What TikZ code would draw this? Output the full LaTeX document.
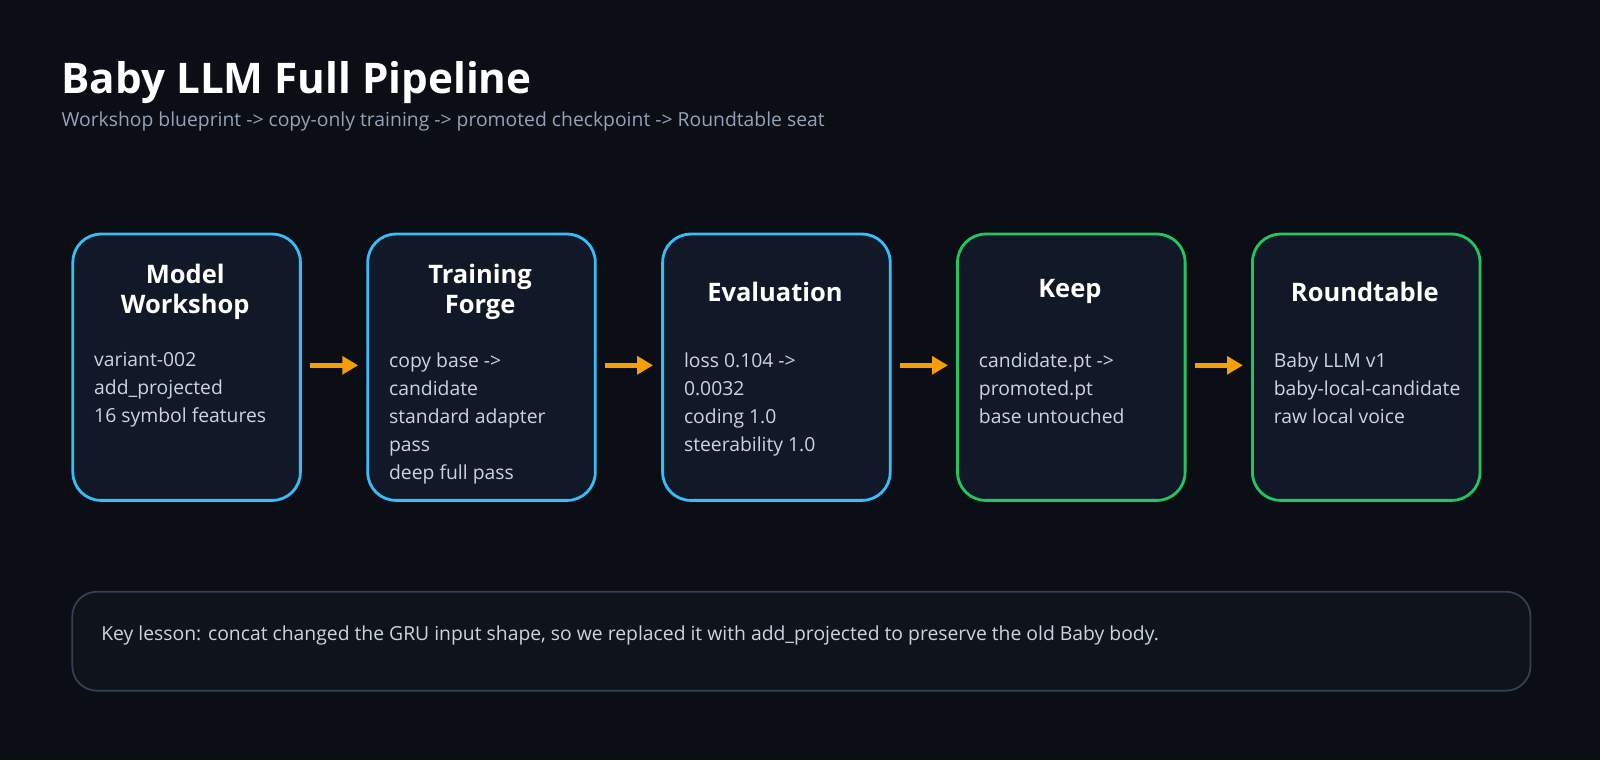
\documentclass[tikz,border=0pt]{standalone}
\usepackage{fontspec}
\setmainfont{Open Sans}
\usepackage{tikz}
\usetikzlibrary{arrows.meta}
\definecolor{bgdark}{HTML}{0B0E14}
\definecolor{boxfill}{HTML}{111827}
\definecolor{lowfill}{HTML}{0F141B}
\definecolor{lowline}{HTML}{334155}
\definecolor{skyline}{HTML}{38BDF8}
\definecolor{greenline}{HTML}{22C55E}
\definecolor{flowarrow}{HTML}{F59E0B}
\definecolor{bodytext}{HTML}{CBD5E1}
\definecolor{subtext}{HTML}{94A3B8}
\tikzstyle{stage}=[rectangle,rounded corners=16pt,fill=boxfill,line width=1.6pt,minimum width=223*0.0204cm,minimum height=261*0.0204cm,anchor=north west,inner sep=0pt]
\tikzstyle{blue}=[stage,draw=skyline]
\tikzstyle{green}=[stage,draw=greenline]
\tikzstyle{head}=[text=white,font=\fontsize{14.5}{17.5}\selectfont\bfseries,align=center]
\tikzstyle{body}=[text=bodytext,font=\fontsize{11}{16}\selectfont,align=left,anchor=north west,inner sep=0pt]
\tikzstyle{flow}=[-{Triangle[length=9pt,width=10pt]},draw=flowarrow,line width=2.6pt]
\begin{document}
\begin{tikzpicture}[x=0.0204cm,y=-0.0204cm]
	\fill [bgdark] (0,0) rectangle (1568,745);
	\useasboundingbox (0,0) rectangle (1568,745);

	\node [anchor=base west,inner sep=0pt,text=white,font=\fontsize{24}{28}\selectfont\bfseries] (title) at (60,92) {Baby LLM Full Pipeline};
	\node [anchor=base west,inner sep=0pt,text=subtext,font=\fontsize{11}{13}\selectfont] (subtitle) at (60,124) {Workshop blueprint -> copy-only training -> promoted checkpoint -> Roundtable seat};

	\node [style=blue] (workshop) at (70,228) {};
	\node [style=blue] (forge) at (359,228) {};
	\node [style=blue] (evaluation) at (648,228) {};
	\node [style=green] (keep) at (937,228) {};
	\node [style=green] (roundtable) at (1226,228) {};

	\node [style=head] at (181.5,286) {Model\\Workshop};
	\node [style=head] at (470.5,286) {Training\\Forge};
	\node [style=head] at (759.5,286) {Evaluation};
	\node [style=head] at (1048.5,286) {Keep};
	\node [style=head] at (1337.5,286) {Roundtable};

	\node [style=body] at (92,345) {variant-002\\add\_projected\\16 symbol features};
	\node [style=body] at (381,345) {copy base ->\\candidate\\standard adapter\\pass\\deep full pass};
	\node [style=body] at (670,345) {loss 0.104 ->\\0.0032\\coding 1.0\\steerability 1.0};
	\node [style=body] at (959,345) {candidate.pt ->\\promoted.pt\\base untouched};
	\node [style=body] at (1248,345) {Baby LLM v1\\baby-local-candidate\\raw local voice};

	\draw [style=flow] ([xshift=8*0.0204cm,yshift=-130*0.0204cm]workshop.north east) -- ([xshift=-8*0.0204cm,yshift=-130*0.0204cm]forge.north west);
	\draw [style=flow] ([xshift=8*0.0204cm,yshift=-130*0.0204cm]forge.north east) -- ([xshift=-8*0.0204cm,yshift=-130*0.0204cm]evaluation.north west);
	\draw [style=flow] ([xshift=8*0.0204cm,yshift=-130*0.0204cm]evaluation.north east) -- ([xshift=-8*0.0204cm,yshift=-130*0.0204cm]keep.north west);
	\draw [style=flow] ([xshift=8*0.0204cm,yshift=-130*0.0204cm]keep.north east) -- ([xshift=-8*0.0204cm,yshift=-130*0.0204cm]roundtable.north west);

	\node [rectangle,rounded corners=14pt,fill=lowfill,draw=lowline,line width=1pt,minimum width=1429*0.0204cm,minimum height=97*0.0204cm,anchor=north west] (lesson) at (70,579) {};
	\node [anchor=west,inner sep=0pt,text=bodytext,font=\fontsize{11}{13}\selectfont] at (99,623) {Key lesson: concat changed the GRU input shape, so we replaced it with add\_projected to preserve the old Baby body.};
\end{tikzpicture}
\end{document}
